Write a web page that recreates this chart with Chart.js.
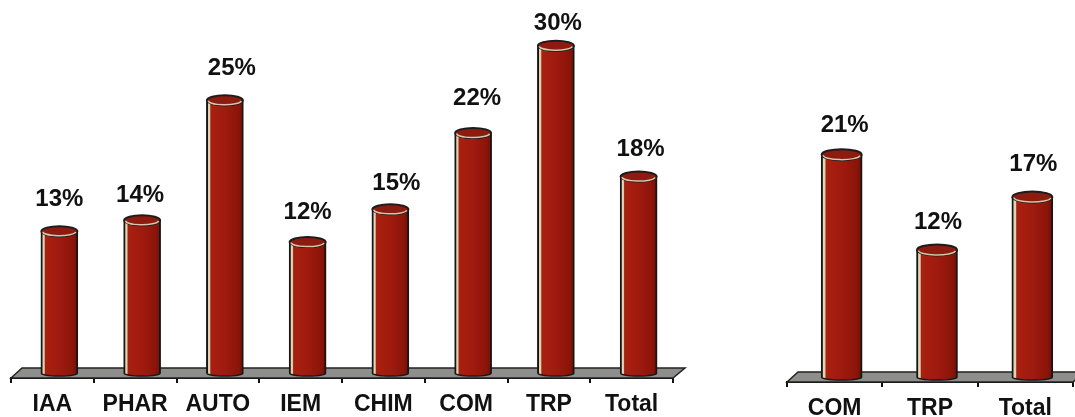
<!DOCTYPE html>
<html>
<head>
<meta charset="utf-8">
<script src="https://cdn.jsdelivr.net/npm/chart.js@4"></script>
<style>
  html,body{margin:0;padding:0;background:#fff;overflow:hidden}
  canvas{position:absolute;top:0}
  #left{left:0}
  #right{left:770px}
</style>
</head>
<body>
<canvas id="left" width="700" height="417"></canvas>
<canvas id="right" width="305" height="417"></canvas>
<script>
var leftCategories=['IAA','PHAR','AUTO','IEM','CHIM','COM','TRP','Total'];
var leftValues=[13,14,25,12,15,22,30,18];
var rightCategories=['COM','TRP','Total'];
var rightValues=[21,12,17];

// hand placement of the percent labels, they are not evenly spaced in the picture
var leftLabelLift=[32,25,32,30,26,35,22,27];
var leftLabelShift=[0,-2,7,0,6,4,2,2];
var rightLabelLift=[29,28,33];
var rightLabelShift=[3,1,1];

var FONT='"Liberation Sans", Arial, sans-serif';
var SHIFT_X=7, SHIFT_Y=-5;

function cylinderFill(c,barW){
  var chart=c.chart;
  if(!chart.chartArea) return '#a0180f';
  var x=chart.scales.x.getPixelForValue(c.dataIndex);
  var g=chart.ctx.createLinearGradient(x-barW/2,0,x+barW/2,0);
  g.addColorStop(0,'#efe2c8');
  g.addColorStop(0.09,'#e3cfae');
  g.addColorStop(0.12,'#a8200f');
  g.addColorStop(0.5,'#a01a0f');
  g.addColorStop(0.88,'#8a1409');
  g.addColorStop(1,'#6a0e07');
  return g;
}

function makeChart(id,cats,vals,o){
  var cylinder={
    id:'cylinder',
    beforeDatasetsDraw:function(chart){
      var a=chart.chartArea, ctx=chart.ctx;
      ctx.save();
      ctx.beginPath();
      ctx.moveTo(a.left,a.bottom);
      ctx.lineTo(a.left+11,a.bottom-10);
      ctx.lineTo(a.right+12,a.bottom-10);
      ctx.lineTo(a.right,a.bottom);
      ctx.closePath();
      ctx.fillStyle='#8e8e8c';
      ctx.fill();
      ctx.lineWidth=1.5;
      ctx.strokeStyle='#222';
      ctx.stroke();
      ctx.restore();
      ctx.save();
      ctx.translate(SHIFT_X,SHIFT_Y);
    },
    afterDatasetsDraw:function(chart){
      var ctx=chart.ctx;
      var bars=chart.getDatasetMeta(0).data;
      bars.forEach(function(b,i){
        var r=o.barW/2;
        // round foot of the cylinder
        ctx.beginPath();
        ctx.ellipse(b.x,b.base,r-0.5,3,0,0,Math.PI);
        ctx.fillStyle=cylinderFill({chart:chart,dataIndex:i},o.barW);
        ctx.fill();
        ctx.lineWidth=1.5;
        ctx.strokeStyle='#1a1a1a';
        ctx.stroke();
        // open top
        ctx.beginPath();
        ctx.ellipse(b.x,b.y,r-0.5,o.capH,0,0,Math.PI*2);
        ctx.fillStyle='#8d1b10';
        ctx.fill();
        ctx.lineWidth=2;
        ctx.strokeStyle='#1c1c1c';
        ctx.stroke();
        ctx.beginPath();
        ctx.ellipse(b.x,b.y+0.5,r-2,o.capH-1,0,0.1,Math.PI);
        ctx.lineWidth=1.5;
        ctx.strokeStyle='#d8c6a6';
        ctx.stroke();
      });
      ctx.restore();
      ctx.save();
      ctx.font='bold 24px '+FONT;
      ctx.fillStyle='#111';
      ctx.textAlign='center';
      ctx.textBaseline='middle';
      bars.forEach(function(b,i){
        ctx.fillText(vals[i]+'%',b.x+SHIFT_X+o.shift[i],b.y+SHIFT_Y-o.lift[i]);
      });
      ctx.restore();
    }
  };
  return new Chart(document.getElementById(id),{
    type:'bar',
    data:{
      labels:cats,
      datasets:[{
        data:vals,
        barThickness:o.barW,
        backgroundColor:function(c){return cylinderFill(c,o.barW);},
        borderColor:'#161616',
        borderWidth:{left:2,right:2,top:0,bottom:0},
        borderSkipped:false
      }]
    },
    options:{
      responsive:false,
      animation:false,
      layout:{padding:o.padding},
      plugins:{legend:{display:false},tooltip:{enabled:false}},
      scales:{
        x:{
          afterFit:function(s){s.height=o.axisH;},
          border:{display:true,color:'#111',width:2},
          grid:{drawOnChartArea:false,drawTicks:true,tickLength:5,color:'#111',lineWidth:2,offset:true},
          ticks:{color:'#111',padding:o.tickPad,maxRotation:0,autoSkip:false,font:{family:FONT,size:o.tickSize,weight:'bold'}}
        },
        y:{display:false,min:0,max:34}
      }
    },
    plugins:[cylinder]
  });
}

makeChart('left',leftCategories,leftValues,{
  barW:37,capH:5,axisH:39,tickPad:8,tickSize:23,
  padding:{left:11,right:27,top:7,bottom:0},
  lift:leftLabelLift,shift:leftLabelShift
});
makeChart('right',rightCategories,rightValues,{
  barW:41,capH:5.5,axisH:35,tickPad:8,tickSize:23,
  padding:{left:17,right:2,top:22,bottom:0},
  lift:rightLabelLift,shift:rightLabelShift
});
</script>
</body>
</html>
